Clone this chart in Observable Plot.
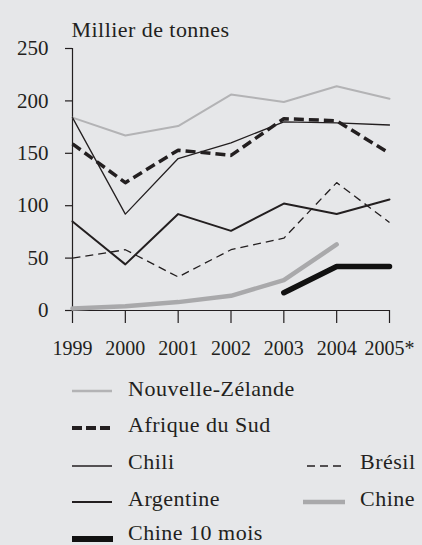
<!DOCTYPE html>
<html>
<head>
<meta charset="utf-8">
<script src="https://cdn.jsdelivr.net/npm/d3@7"></script>
<script src="https://cdn.jsdelivr.net/npm/@observablehq/plot@0.6"></script>
<style>
  html, body { margin: 0; padding: 0; background: #e6e7e9; }
  #wrap { position: relative; width: 422px; height: 545px; overflow: hidden; }
  #chart svg { display: block; }
  #legend { position: absolute; left: 0; top: 0; }
  svg text { font-family: "Liberation Serif", "Times New Roman", Tinos, "DejaVu Serif", serif !important; }
  .ttl { letter-spacing: 0.45px; }
</style>
</head>
<body>
<div id="wrap">
  <div id="chart"></div>
  <svg id="legend" width="422" height="545"></svg>
</div>
<script>
// ---- data ----
const years = [1999, 2000, 2001, 2002, 2003, 2004, 2005];
const yearLabels = ["1999", "2000", "2001", "2002", "2003", "2004", "2005*"];
const yTicks = [0, 50, 100, 150, 200, 250];
const nouvelleZelande = [184, 167, 176, 206, 199, 214, 202];
const afriqueDuSud = [159, 122, 153, 148, 183, 181, 150];
const chili = [184, 92, 145, 160, 180, 179, 177];
const argentine = [85, 44, 92, 76, 102, 92, 106];
const bresil = [50, 58, 32, 58, 69, 122, 84];
const chineYears = [1999, 2000, 2001, 2002, 2003, 2004];
const chine = [2, 4, 8, 14, 29, 63];
const chine10Years = [2003, 2004, 2005];
const chine10 = [17, 42, 42];
const title = "Millier de tonnes";

const rows = (xs, vs) => xs.map((x, i) => ({x, y: vs[i]}));
const ink = "#231f20";
const serif = "'Liberation Serif', 'Times New Roman', Tinos, 'DejaVu Serif', serif";

const chart = Plot.plot({
  width: 422,
  height: 370,
  marginLeft: 72,
  marginRight: 33,
  marginTop: 48,
  marginBottom: 60,
  style: {background: "transparent", fontFamily: serif, fontSize: "20px", color: ink},
  x: {domain: [1999, 2005]},
  y: {domain: [0, 250]},
  marks: [
    Plot.axisY({ticks: yTicks, tickSize: 7, tickPadding: 17, label: null, stroke: ink, strokeWidth: 1.2, fontSize: 21}),
    Plot.axisX({ticks: years, tickFormat: (d) => yearLabels[years.indexOf(d)], tickSize: 13, tickPadding: 17, label: null, stroke: ink, strokeWidth: 1.2, fontSize: 20}),
    Plot.ruleX([1999], {y1: 0, y2: 250, stroke: ink, strokeWidth: 1.2}),
    Plot.ruleY([0], {stroke: ink, strokeWidth: 1.2}),
    Plot.line(rows(chineYears, chine), {x: "x", y: "y", stroke: "#a9a9ab", strokeWidth: 4.5}),
    Plot.line(rows(years, nouvelleZelande), {x: "x", y: "y", stroke: "#b3b3b5", strokeWidth: 2}),
    Plot.line(rows(years, bresil), {x: "x", y: "y", stroke: ink, strokeWidth: 1.3, strokeDasharray: "8,5", strokeLinecap: "butt"}),
    Plot.line(rows(years, argentine), {x: "x", y: "y", stroke: ink, strokeWidth: 2}),
    Plot.line(rows(years, chili), {x: "x", y: "y", stroke: ink, strokeWidth: 1.3}),
    Plot.line(rows(years, afriqueDuSud), {x: "x", y: "y", stroke: ink, strokeWidth: 3.5, strokeDasharray: "10,5", strokeLinecap: "butt"}),
    Plot.line(rows(chine10Years, chine10), {x: "x", y: "y", stroke: "#111", strokeWidth: 5.5}),
    Plot.text([title], {frameAnchor: "top-left", textAnchor: "start", lineAnchor: "bottom", dx: -1, dy: -12, fontSize: 22, fill: ink, className: "ttl"})
  ]
});
document.getElementById("chart").appendChild(chart);

// ---- legend ----
const legendNames = ["Nouvelle-Zélande", "Afrique du Sud", "Chili", "Argentine", "Chine 10 mois", "Brésil", "Chine"];
const legendStyles = [
  {stroke: "#b3b3b5", w: 2.5, dash: null},
  {stroke: ink, w: 4, dash: "10,4"},
  {stroke: ink, w: 1.5, dash: null},
  {stroke: ink, w: 2.2, dash: null},
  {stroke: "#111", w: 6, dash: null},
  {stroke: ink, w: 1.5, dash: "8,5"},
  {stroke: "#a9a9ab", w: 4.5, dash: null}
];
const legendPos = [
  {x1: 72, x2: 112, tx: 128, y: 391, ty: 396},
  {x1: 72, x2: 112, tx: 128, y: 428, ty: 432},
  {x1: 72, x2: 112, tx: 128, y: 466, ty: 469},
  {x1: 72, x2: 112, tx: 128, y: 502, ty: 506},
  {x1: 72, x2: 113, tx: 128, y: 539, ty: 540},
  {x1: 307, x2: 346, tx: 360, y: 466, ty: 469},
  {x1: 303, x2: 345, tx: 360, y: 502, ty: 506}
];
const lg = d3.select("#legend");
legendNames.forEach((name, i) => {
  const p = legendPos[i], s = legendStyles[i];
  const ln = lg.append("line").attr("x1", p.x1).attr("x2", p.x2).attr("y1", p.y).attr("y2", p.y)
    .attr("stroke", s.stroke).attr("stroke-width", s.w);
  if (s.dash) ln.attr("stroke-dasharray", s.dash);
  lg.append("text").attr("x", p.tx).attr("y", p.ty)
    .attr("font-size", 22).attr("fill", ink).attr("letter-spacing", "0.5px")
    .text(name);
});
</script>
</body>
</html>
